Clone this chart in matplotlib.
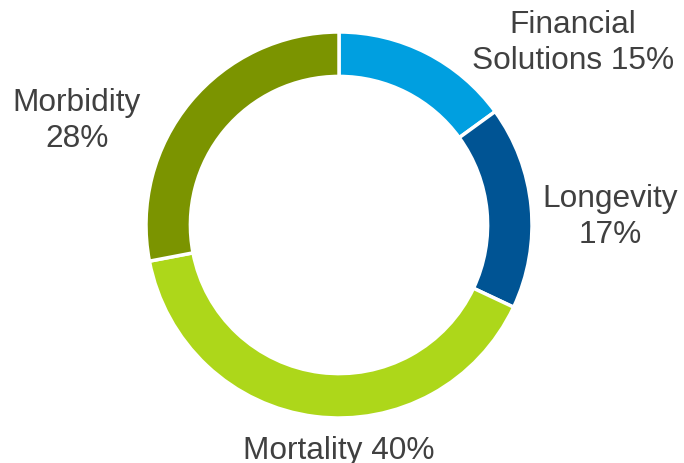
import matplotlib.pyplot as plt

# business mix, clockwise from 12 o'clock
segments = ['Financial Solutions', 'Longevity', 'Mortality', 'Morbidity']
shares = [15, 17, 40, 28]
colors = ['#009FE0', '#005494', '#ADD71A', '#7B9400']

plt.rcParams['font.family'] = ['Liberation Sans', 'DejaVu Sans']

fig = plt.figure(figsize=(6.84, 4.64), dpi=100)
ax = fig.add_axes([0, 0, 1, 1])

ax.pie(shares, colors=colors, startangle=90, counterclock=False,
       center=(339, 238), radius=193, frame=True,
       wedgeprops=dict(width=193 * 0.23, edgecolor='white', linewidth=2.5))
ax.set_xlim(0, 684)
ax.set_ylim(0, 464)
ax.axis('off')

txt = dict(fontsize=22.8, color='#404040', ha='center', va='center', linespacing=1.28)
ax.text(573, 464 - 43, 'Financial\nSolutions 15%', **txt)
ax.text(610, 464 - 217, 'Longevity\n17%', **txt)
ax.text(77, 464 - 121, 'Morbidity\n28%', **txt)
ax.text(339, 464 - 451, 'Mortality 40%', **txt)

fig.savefig('out.png', dpi=100)
